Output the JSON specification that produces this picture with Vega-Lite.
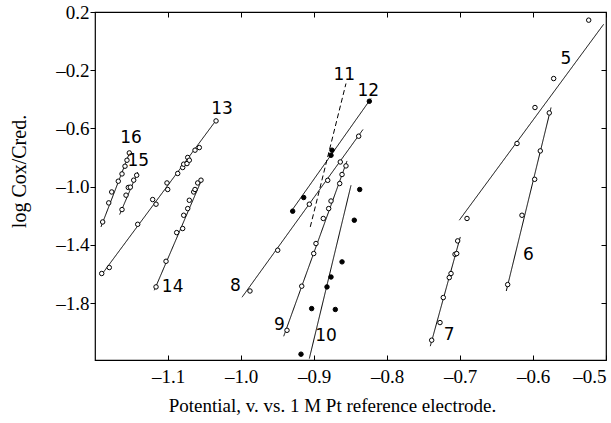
{
  "$schema": "https://vega.github.io/schema/vega-lite/v6.json",
  "width": 511,
  "height": 348,
  "autosize": {"type": "none"},
  "padding": {"left": 95, "top": 12, "right": 5, "bottom": 63},
  "background": "white",
  "config": {
    "view": {"stroke": "black", "strokeWidth": 1.2},
    "axis": {"labelFont": "Liberation Serif", "titleFont": "Liberation Serif", "labelColor": "black", "titleColor": "black", "tickColor": "black", "domain": false, "grid": false, "labelFontSize": 19, "titleFontSize": 19, "titleFontWeight": "normal"}
  },
  "datasets": {
    "pts": [
      {"series": "16", "x": -1.1895, "y": -1.242, "kind": "open"},
      {"series": "16", "x": -1.1812, "y": -1.111, "kind": "open"},
      {"series": "16", "x": -1.1771, "y": -1.036, "kind": "open"},
      {"series": "16", "x": -1.1681, "y": -0.962, "kind": "open"},
      {"series": "16", "x": -1.163, "y": -0.912, "kind": "open"},
      {"series": "16", "x": -1.1589, "y": -0.859, "kind": "open"},
      {"series": "16", "x": -1.1562, "y": -0.818, "kind": "open"},
      {"series": "16", "x": -1.153, "y": -0.768, "kind": "open"},
      {"series": "15", "x": -1.163, "y": -1.157, "kind": "open"},
      {"series": "15", "x": -1.1575, "y": -1.058, "kind": "open"},
      {"series": "15", "x": -1.1544, "y": -1.005, "kind": "open"},
      {"series": "15", "x": -1.1516, "y": -1.003, "kind": "open"},
      {"series": "15", "x": -1.147, "y": -0.955, "kind": "open"},
      {"series": "15", "x": -1.1429, "y": -0.921, "kind": "open"},
      {"series": "13", "x": -1.1908, "y": -1.596, "kind": "open"},
      {"series": "13", "x": -1.1804, "y": -1.555, "kind": "open"},
      {"series": "13", "x": -1.1415, "y": -1.258, "kind": "open"},
      {"series": "13", "x": -1.121, "y": -1.088, "kind": "open"},
      {"series": "13", "x": -1.1164, "y": -1.12, "kind": "open"},
      {"series": "13", "x": -1.1004, "y": -1.019, "kind": "open"},
      {"series": "13", "x": -1.1014, "y": -0.974, "kind": "open"},
      {"series": "13", "x": -1.0867, "y": -0.909, "kind": "open"},
      {"series": "13", "x": -1.0799, "y": -0.868, "kind": "open"},
      {"series": "13", "x": -1.0785, "y": -0.845, "kind": "open"},
      {"series": "13", "x": -1.074, "y": -0.841, "kind": "open"},
      {"series": "13", "x": -1.073, "y": -0.799, "kind": "open"},
      {"series": "13", "x": -1.0708, "y": -0.818, "kind": "open"},
      {"series": "13", "x": -1.063, "y": -0.749, "kind": "open"},
      {"series": "13", "x": -1.0571, "y": -0.731, "kind": "open"},
      {"series": "13", "x": -1.0342, "y": -0.548, "kind": "open"},
      {"series": "14", "x": -1.1164, "y": -1.688, "kind": "open"},
      {"series": "14", "x": -1.1027, "y": -1.512, "kind": "open"},
      {"series": "14", "x": -1.0881, "y": -1.315, "kind": "open"},
      {"series": "14", "x": -1.0799, "y": -1.287, "kind": "open"},
      {"series": "14", "x": -1.0785, "y": -1.196, "kind": "open"},
      {"series": "14", "x": -1.073, "y": -1.15, "kind": "open"},
      {"series": "14", "x": -1.0708, "y": -1.093, "kind": "open"},
      {"series": "14", "x": -1.0648, "y": -1.036, "kind": "open"},
      {"series": "14", "x": -1.063, "y": -1.019, "kind": "open"},
      {"series": "14", "x": -1.0593, "y": -0.974, "kind": "open"},
      {"series": "14", "x": -1.0548, "y": -0.955, "kind": "open"},
      {"series": "12", "x": -0.9292, "y": -1.168, "kind": "filled"},
      {"series": "12", "x": -0.9141, "y": -1.074, "kind": "filled"},
      {"series": "12", "x": -0.8767, "y": -0.784, "kind": "filled"},
      {"series": "12", "x": -0.8753, "y": -0.749, "kind": "filled"},
      {"series": "12", "x": -0.8242, "y": -0.413, "kind": "filled"},
      {"series": "8", "x": -0.9877, "y": -1.716, "kind": "open"},
      {"series": "8", "x": -0.9497, "y": -1.436, "kind": "open"},
      {"series": "8", "x": -0.9064, "y": -1.12, "kind": "open"},
      {"series": "8", "x": -0.8812, "y": -0.956, "kind": "open"},
      {"series": "8", "x": -0.864, "y": -0.83, "kind": "open"},
      {"series": "8", "x": -0.8388, "y": -0.653, "kind": "open"},
      {"series": "9", "x": -0.937, "y": -1.986, "kind": "open"},
      {"series": "9", "x": -0.9168, "y": -1.683, "kind": "open"},
      {"series": "9", "x": -0.9004, "y": -1.459, "kind": "open"},
      {"series": "9", "x": -0.8973, "y": -1.39, "kind": "open"},
      {"series": "9", "x": -0.8873, "y": -1.218, "kind": "open"},
      {"series": "9", "x": -0.8799, "y": -1.15, "kind": "open"},
      {"series": "9", "x": -0.8767, "y": -1.098, "kind": "open"},
      {"series": "9", "x": -0.8648, "y": -0.978, "kind": "open"},
      {"series": "9", "x": -0.8616, "y": -0.916, "kind": "open"},
      {"series": "9", "x": -0.8562, "y": -0.857, "kind": "open"},
      {"series": "10", "x": -0.9178, "y": -2.15, "kind": "filled"},
      {"series": "10", "x": -0.9032, "y": -1.837, "kind": "filled"},
      {"series": "10", "x": -0.8822, "y": -1.688, "kind": "filled"},
      {"series": "10", "x": -0.8767, "y": -1.62, "kind": "filled"},
      {"series": "10", "x": -0.8708, "y": -1.843, "kind": "filled"},
      {"series": "10", "x": -0.8616, "y": -1.516, "kind": "filled"},
      {"series": "10", "x": -0.8448, "y": -1.23, "kind": "filled"},
      {"series": "10", "x": -0.8374, "y": -1.019, "kind": "filled"},
      {"series": "7", "x": -0.7388, "y": -2.054, "kind": "open"},
      {"series": "7", "x": -0.7274, "y": -1.933, "kind": "open"},
      {"series": "7", "x": -0.7229, "y": -1.761, "kind": "open"},
      {"series": "7", "x": -0.7147, "y": -1.624, "kind": "open"},
      {"series": "7", "x": -0.7123, "y": -1.596, "kind": "open"},
      {"series": "7", "x": -0.7068, "y": -1.464, "kind": "open"},
      {"series": "7", "x": -0.7045, "y": -1.459, "kind": "open"},
      {"series": "7", "x": -0.7032, "y": -1.372, "kind": "open"},
      {"series": "5", "x": -0.6904, "y": -1.218, "kind": "open"},
      {"series": "5", "x": -0.6219, "y": -0.703, "kind": "open"},
      {"series": "5", "x": -0.5973, "y": -0.456, "kind": "open"},
      {"series": "5", "x": -0.5717, "y": -0.257, "kind": "open"},
      {"series": "5", "x": -0.5237, "y": 0.144, "kind": "open"},
      {"series": "6", "x": -0.6347, "y": -1.672, "kind": "open"},
      {"series": "6", "x": -0.6151, "y": -1.196, "kind": "open"},
      {"series": "6", "x": -0.5977, "y": -0.949, "kind": "open"},
      {"series": "6", "x": -0.59, "y": -0.754, "kind": "open"},
      {"series": "6", "x": -0.5777, "y": -0.493, "kind": "open"}
    ],
    "lines": [
      {"series": "16", "style": "solid", "x": -1.1918, "y": -1.276},
      {"series": "16", "style": "solid", "x": -1.1517, "y": -0.754},
      {"series": "15", "style": "solid", "x": -1.1662, "y": -1.191},
      {"series": "15", "style": "solid", "x": -1.1415, "y": -0.9},
      {"series": "13", "style": "solid", "x": -1.1908, "y": -1.603},
      {"series": "13", "style": "solid", "x": -1.0333, "y": -0.538},
      {"series": "14", "style": "solid", "x": -1.1188, "y": -1.711},
      {"series": "14", "style": "solid", "x": -1.0538, "y": -0.951},
      {"series": "12", "style": "solid", "x": -0.9301, "y": -1.161},
      {"series": "12", "style": "solid", "x": -0.8219, "y": -0.394},
      {"series": "8", "style": "solid", "x": -0.9986, "y": -1.759},
      {"series": "8", "style": "solid", "x": -0.8329, "y": -0.607},
      {"series": "11", "style": "dashed", "x": -0.9051, "y": -1.276},
      {"series": "11", "style": "dashed", "x": -0.8562, "y": -0.291},
      {"series": "9", "style": "solid", "x": -0.9415, "y": -2.027},
      {"series": "9", "style": "solid", "x": -0.8548, "y": -0.823},
      {"series": "10", "style": "solid", "x": -0.9064, "y": -2.18},
      {"series": "10", "style": "solid", "x": -0.8493, "y": -0.99},
      {"series": "7", "style": "solid", "x": -0.7407, "y": -2.095},
      {"series": "7", "style": "solid", "x": -0.6996, "y": -1.345},
      {"series": "5", "style": "solid", "x": -0.701, "y": -1.23},
      {"series": "5", "style": "solid", "x": -0.5032, "y": 0.116},
      {"series": "6", "style": "solid", "x": -0.6366, "y": -1.716},
      {"series": "6", "style": "solid", "x": -0.5753, "y": -0.456}
    ],
    "labels": [
      {"label": "16", "x": -1.1507, "y": -0.667},
      {"label": "15", "x": -1.1407, "y": -0.825},
      {"label": "13", "x": -1.026, "y": -0.463},
      {"label": "14", "x": -1.0936, "y": -1.692},
      {"label": "12", "x": -0.8256, "y": -0.344},
      {"label": "11", "x": -0.8585, "y": -0.234},
      {"label": "8", "x": -1.0078, "y": -1.683},
      {"label": "9", "x": -0.9475, "y": -1.951},
      {"label": "10", "x": -0.8836, "y": -2.027},
      {"label": "7", "x": -0.7147, "y": -2.02},
      {"label": "5", "x": -0.5548, "y": -0.12},
      {"label": "6", "x": -0.6064, "y": -1.471}
    ]
  },
  "layer": [
    {
      "data": {"name": "lines"},
      "mark": {"type": "line", "color": "black", "strokeWidth": 1},
      "encoding": {
        "x": {
          "field": "x", "type": "quantitative",
          "scale": {"domain": [-1.2, -0.5], "nice": false, "zero": false},
          "axis": {
            "orient": "bottom",
            "values": [-1.1, -1.0, -0.9, -0.8, -0.7, -0.6, -0.5],
            "labelExpr": "'\u2013' + format(abs(datum.value), '.1f')",
            "labelDx": -10,
            "tickSize": -5, "labelPadding": 12,
            "title": "Potential, v. vs. 1 M Pt reference electrode.",
            "titleX": 237, "titleY": 51, "titleBaseline": "alphabetic"
          }
        },
        "y": {
          "field": "y", "type": "quantitative",
          "scale": {"domain": [-2.19, 0.2], "nice": false, "zero": false},
          "axis": {
            "orient": "left",
            "values": [0.2, -0.2, -0.6, -1.0, -1.4, -1.8],
            "labelExpr": "datum.value < 0 ? '\u2013' + format(-datum.value, '.1f') : format(datum.value, '.1f')",
            "tickSize": 5, "labelPadding": 1,
            "title": "log Cox/Cred.",
            "titleFontSize": 20,
            "titleX": -76, "titleY": 159, "titleAngle": -90, "titleBaseline": "middle", "titleAlign": "center"
          }
        },
        "detail": {"field": "series"},
        "strokeDash": {"field": "style", "type": "nominal", "scale": {"domain": ["solid", "dashed"], "range": [[1, 0], [5, 3]]}, "legend": null}
      }
    },
    {
      "data": {"name": "pts"},
      "mark": {"type": "point", "shape": "circle", "filled": true, "stroke": "black", "strokeWidth": 1, "size": 20, "opacity": 1},
      "encoding": {
        "x": {"field": "x", "type": "quantitative", "axis": null},
        "y": {"field": "y", "type": "quantitative", "axis": null},
        "fill": {"field": "kind", "type": "nominal", "scale": {"domain": ["open", "filled"], "range": ["white", "black"]}, "legend": null}
      }
    },
    {
      "data": {"name": "labels"},
      "mark": {"type": "text", "font": "DejaVu Sans", "fontSize": 17, "color": "black", "align": "center", "baseline": "middle"},
      "encoding": {
        "x": {"field": "x", "type": "quantitative", "axis": {"orient": "top", "values": [-1.1, -1.0, -0.9, -0.8, -0.7, -0.6, -0.5], "labels": false, "tickSize": -5, "title": null}},
        "y": {"field": "y", "type": "quantitative", "axis": {"orient": "right", "values": [0.2, -0.2, -0.6, -1.0, -1.4, -1.8], "labels": false, "tickSize": -5, "title": null}},
        "text": {"field": "label"}
      }
    }
  ],
  "resolve": {"axis": {"x": "independent", "y": "independent"}}
}
